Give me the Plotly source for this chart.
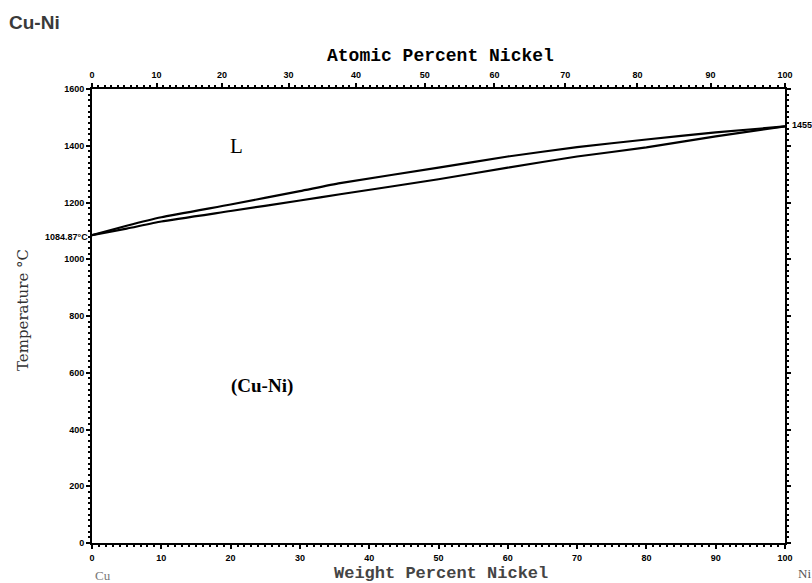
import plotly.graph_objects as go
import numpy as np

# ---- data ----
wt_ni = [0, 5, 10, 20, 30, 35.8, 50, 60, 70, 80, 90, 100]
liquidus = [1085, 1118, 1148, 1193, 1240, 1268, 1323, 1362, 1395, 1422, 1447, 1468]
solidus = [1085, 1108, 1133, 1170, 1207, 1229, 1282, 1323, 1362, 1394, 1433, 1468]

wt_ticks = [0, 10, 20, 30, 40, 50, 60, 70, 80, 90, 100]
temp_ticks = [0, 200, 400, 600, 800, 1000, 1200, 1400, 1600]
at_ticks = [0, 10, 20, 30, 40, 50, 60, 70, 80, 90, 100]
M_CU, M_NI = 63.546, 58.693


def at_to_wt(a):
    a = np.asarray(a, dtype=float)
    return 100 * a * M_NI / (a * M_NI + (100 - a) * M_CU)


at_tick_pos = [float(v) for v in at_to_wt(at_ticks)]
at_minor_pos = [float(v) for v in at_to_wt(np.arange(0, 101, 1))]

fig = go.Figure()
for ys in (liquidus, solidus):
    fig.add_trace(go.Scatter(x=wt_ni, y=ys, mode="lines",
                             line=dict(color="black", width=2.2, shape="spline", smoothing=0.5),
                             showlegend=False, hoverinfo="skip"))
# invisible traces for secondary axes
fig.add_trace(go.Scatter(x=[0, 100], y=[0, 0], xaxis="x2", mode="lines",
                         line=dict(width=0), showlegend=False, hoverinfo="skip"))
fig.add_trace(go.Scatter(x=[0, 100], y=[0, 0], yaxis="y2", mode="lines",
                         line=dict(width=0), showlegend=False, hoverinfo="skip"))

tickfont = dict(family="Liberation Sans", size=9, color="black", weight="bold")
common = dict(showgrid=False, zeroline=False, showline=True, linecolor="black", linewidth=2,
              ticks="outside", tickcolor="black", ticklen=4, tickwidth=1.5, tickfont=tickfont)

fig.update_layout(
    width=812, height=583,
    margin=dict(l=92, r=27, t=89, b=40),
    paper_bgcolor="white", plot_bgcolor="white",
    xaxis=dict(range=[0, 100], tickvals=wt_ticks, ticktext=[str(v) for v in wt_ticks],
               minor=dict(dtick=1, ticks="outside", ticklen=2, tickcolor="black", tickwidth=1.5),
               ticklabelstandoff=1, **common),
    xaxis2=dict(range=[0, 100], overlaying="x", side="top", tickvals=at_tick_pos,
                ticktext=[str(v) for v in at_ticks],
                minor=dict(tickmode="array", tickvals=at_minor_pos, ticks="outside", ticklen=2,
                           tickcolor="black", tickwidth=1.5),
                ticklabelstandoff=1, **common),
    yaxis=dict(range=[0, 1600], tickvals=temp_ticks, ticktext=[str(v) for v in temp_ticks],
               minor=dict(dtick=20, ticks="outside", ticklen=2, tickcolor="black", tickwidth=1.5),
               **common),
    yaxis2=dict(range=[0, 1600], overlaying="y", side="right", showticklabels=False,
                tickvals=temp_ticks,
                minor=dict(dtick=20, ticks="outside", ticklen=2, tickcolor="black", tickwidth=1.5),
                **{k: v for k, v in common.items() if k != "tickfont"}),
)


def px(xp):
    return (xp - 92) / 693.0


def py(yp):
    return (543 - yp) / 454.0


anns = [
    dict(text="<b>Cu-Ni</b>", x=px(7), y=py(22), xanchor="left", yanchor="middle",
         font=dict(family="Liberation Sans", size=19, color="#3a3a3a")),
    dict(text="<b>Atomic Percent Nickel</b>", x=px(440), y=py(56), xanchor="center", yanchor="middle",
         font=dict(family="Liberation Mono", size=18, color="black")),
    dict(text="<b>Weight Percent Nickel</b>", x=px(441), y=py(573), xanchor="center", yanchor="middle",
         font=dict(family="Liberation Mono", size=17, color="#444")),
    dict(text="Cu", x=px(93), y=py(575), xanchor="left", yanchor="middle",
         font=dict(family="Liberation Serif", size=13, color="#777")),
    dict(text="Ni", x=px(796), y=py(573), xanchor="left", yanchor="middle",
         font=dict(family="Liberation Serif", size=13, color="#555")),
    dict(text="Temperature °C", x=px(23), y=py(310), xanchor="center", yanchor="middle", textangle=-90,
         font=dict(family="DejaVu Serif", size=15, color="#333")),
    dict(text="L", x=px(236), y=py(146), xanchor="center", yanchor="middle",
         font=dict(family="Liberation Serif", size=21, color="black")),
    dict(text="<b>(Cu-Ni)</b>", x=px(262), y=py(386), xanchor="center", yanchor="middle",
         font=dict(family="Liberation Serif", size=19, color="black")),
    dict(text="<b>1084.87°C</b>", x=px(90), y=py(237), xanchor="right", yanchor="middle",
         font=dict(family="Liberation Sans", size=9, color="black")),
    dict(text="<b>1455</b>", x=px(790), y=py(125), xanchor="left", yanchor="middle",
         font=dict(family="Liberation Sans", size=9, color="black")),
]
for a in anns:
    a.update(xref="paper", yref="paper", showarrow=False)
fig.update_layout(annotations=anns)

fig.write_html("out.html", config={"displayModeBar": False},
               post_script="document.body.style.margin='0';document.body.style.overflow='hidden';")
